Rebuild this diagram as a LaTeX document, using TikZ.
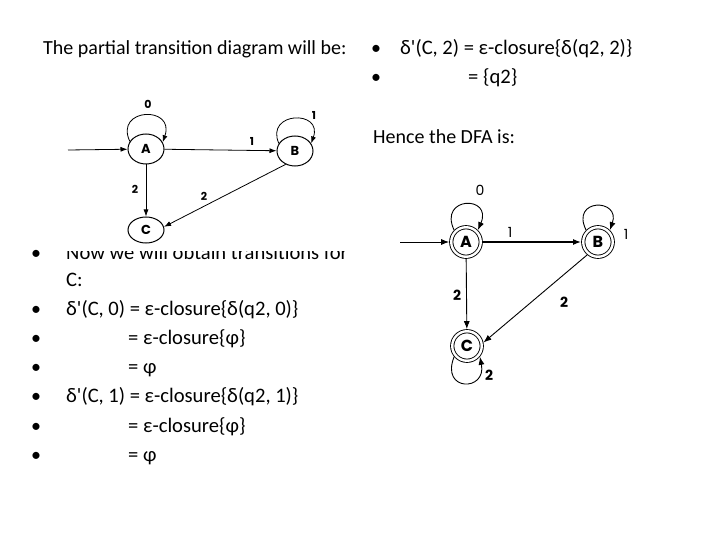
\documentclass[tikz,border=0pt]{standalone}
\usepackage{fontspec}
\setmainfont{Carlito}[Ligatures=TeXOff]
\newfontfamily\gfont{Poppins}
\usetikzlibrary{arrows.meta,shapes.geometric}
\begin{document}
\begin{tikzpicture}[x=1pt,y=-1pt,
  ttl/.style={anchor=base west, inner sep=0pt, font=\fontsize{20}{24}\selectfont},
  txt/.style={anchor=base west, inner sep=0pt, font=\fontsize{20.6}{25}\selectfont},
  bul/.style={anchor=base, inner sep=0pt, font=\fontsize{20}{24}\selectfont},
  sA/.style={draw, ellipse, line width=1pt, inner sep=0pt, minimum width=36pt, minimum height=30pt, font=\gfont\bfseries\fontsize{13}{13}\selectfont},
  sB/.style={draw, circle, line width=0.9pt, double, double distance=2.4pt, inner sep=0pt, minimum size=29.5pt, outer sep=2.1pt, font=\gfont\bfseries\fontsize{16}{16}\selectfont},
  arr/.style={-{Latex[length=7pt,width=5pt]}, line width=0.8pt},
  arrB/.style={-{Latex[length=8pt,width=6pt]}, line width=0.9pt},
  lbA/.style={inner sep=0pt, font=\gfont\bfseries\fontsize{11}{11}\selectfont},
  lbB/.style={inner sep=0pt, font=\gfont\fontsize{14}{14}\selectfont},
  lbBb/.style={inner sep=0pt, font=\gfont\bfseries\fontsize{14}{14}\selectfont},
]
\useasboundingbox (0,0) rectangle (720,540);
\fill[white] (0,0) rectangle (720,540);

% texts
\node[ttl] (t1) at (43,55) {The partial transition diagram will be:};
\node[bul] (rb1) at (376,55) {•};
\node[txt] (r1) at (400,55) {δ'(C, 2) = ε-closure\{δ(q2, 2)\}};
\node[bul] (rb2) at (376,84) {•};
\node[txt] (r2) at (468,84) {= \{q2\}};
\node[ttl] (h) at (373,144) {Hence the DFA is:};

\node[bul] (lb1) at (36,259) {•};
\node[txt] (l1) at (66,259) {Now we will obtain transitions for};
\node[txt] (l1b) at (66,286.5) {C:};
\node[bul] (lb2) at (36,315.6) {•};
\node[txt] (l2) at (66,315.6) {δ'(C, 0) = ε-closure\{δ(q2, 0)\}};
\node[bul] (lb3) at (36,344.7) {•};
\node[txt] (l3) at (128,344.7) {= ε-closure\{φ\}};
\node[bul] (lb4) at (36,373.8) {•};
\node[txt] (l4) at (128,373.8) {= φ};
\node[bul] (lb5) at (36,402.9) {•};
\node[txt] (l5) at (66,402.9) {δ'(C, 1) = ε-closure\{δ(q2, 1)\}};
\node[bul] (lb6) at (36,432) {•};
\node[txt] (l6) at (128,432) {= ε-closure\{φ\}};
\node[bul] (lb7) at (36,461) {•};
\node[txt] (l7) at (128,461) {= φ};

% white box of the first picture (covers top of the text line)
\fill[white] (55,88) rectangle (355,250.5);

% first diagram
\node[sA] (A1) at (146,149) {A};
\node[sA] (B1) at (295,151) {B};
\node[sA, minimum height=26pt] (C1) at (146,230) {C};
\coordinate (in1) at (68,150);
\draw[arr] (in1) -- (A1);
\draw[arr] (A1) -- (B1);
\draw[arr] (A1) -- (C1);
\draw[arr] (B1.235) -- (C1.10);
\draw[arr] (A1.155) .. controls +(-16,-34) and +(13,-37) .. (A1.22);
\draw[arr] (B1.155) .. controls +(-14,-32) and +(12,-34) .. (B1.25);
\node[lbA] (a0) at (148,104) {0};
\node[lbA] (a1) at (252,141) {1};
\node[lbA] (b1) at (314,115) {1};
\node[lbA] (a2) at (135,189) {2};
\node[lbA] (b2) at (204,196) {2};

% DFA
\node[sB] (A2) at (466,242) {A};
\node[sB] (B2) at (598,242) {B};
\node[sB] (C2) at (467,346) {C};
\coordinate (in2) at (400,242);
\draw[arrB] (in2) -- (A2);
\draw[arrB, line width=1.8pt] (A2) -- (B2);
\draw[arrB] (A2) -- (C2);
\draw[arrB] (B2.230) -- (C2.12);
\draw[arrB] (A2.135) .. controls +(-16,-34) and +(15,-35) .. (A2.45);
\draw[arrB] (B2.135) .. controls +(-16,-32) and +(11,-32) .. (B2.45);
\draw[arrB] (C2.220) .. controls +(-14,35) and +(7,35) .. (C2.320);
\node[lbB] (c0) at (480,190) {0};
\node[lbB] (c1) at (510,232) {1};
\node[lbB] (d1) at (626,234) {1};
\node[lbBb] (c2) at (457,295) {2};
\node[lbBb] (d2) at (564,302) {2};
\node[lbBb] (e2) at (489,375) {2};
\end{tikzpicture}
\end{document}
